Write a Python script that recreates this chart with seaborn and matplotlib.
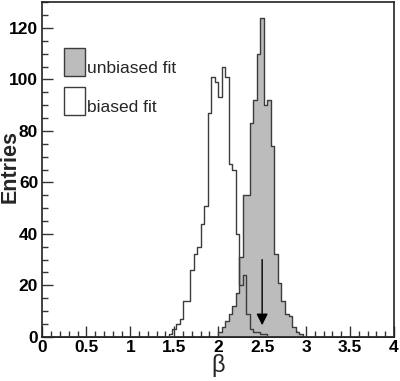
import numpy as np
import pandas as pd
import matplotlib
matplotlib.use("Agg")
import matplotlib.pyplot as plt
import seaborn as sns
from matplotlib.patches import Patch, Rectangle
from matplotlib.legend_handler import HandlerPatch
from matplotlib.ticker import MultipleLocator

# ---------------- data ----------------
bin_width = 0.04
x_range = (0.0, 4.0)

biased_start = 1.44
biased_counts = [1, 3, 5, 7, 14, 14, 26, 32, 35, 44, 51, 87, 101, 99, 93, 105,
                 101, 67, 65, 40, 20, 24, 9, 3, 2, 2, 1, 1]

unbiased_start = 2.00
unbiased_counts = [2, 4, 6, 9, 12, 17, 31, 55, 55, 83, 92, 110, 124, 90, 92, 74,
                   32, 21, 14, 9, 8, 4, 2, 1]

true_beta = 2.5
arrow_top = 30
arrow_tip = 4.5

legend_labels = ["unbiased fit", "biased fit"]
xtick_labels = ["0", "0.5", "1", "1.5", "2", "2.5", "3", "3.5", "4"]
ytick_labels = ["0", "20", "40", "60", "80", "100", "120"]

# ---------------- build tables ----------------
def table(start, counts):
    n = len(counts)
    centers = start + bin_width * (np.arange(n) + 0.5)
    return pd.DataFrame({"beta": centers, "entries": counts})

df_b = table(biased_start, biased_counts)
df_u = table(unbiased_start, unbiased_counts)

# ---------------- figure ----------------
sns.set_style("ticks")
plt.rcParams["font.family"] = ["Liberation Sans", "DejaVu Sans"]

fig = plt.figure(figsize=(4.0, 3.81), dpi=100)
ax = fig.add_axes([0.106, 0.116, 0.879, 0.878])

gray = "#bcbcbc"
edge = "#3c3c3c"

sns.histplot(data=df_u, x="beta", weights="entries", binwidth=bin_width, binrange=x_range,
             element="step", fill=True, color=gray, edgecolor=edge, alpha=1,
             linewidth=1.0, ax=ax, zorder=2)
sns.histplot(data=df_b, x="beta", weights="entries", binwidth=bin_width, binrange=x_range,
             element="step", fill=False, color=edge, linewidth=1.0, ax=ax, zorder=3)

ax.annotate("", xy=(true_beta, arrow_tip), xytext=(true_beta, arrow_top),
            arrowprops=dict(arrowstyle="-|>", color="black", lw=1.0,
                            mutation_scale=17, shrinkA=0, shrinkB=0), zorder=4)

ax.set_xlim(*x_range)
ax.set_ylim(0, 130)
ax.set_xticks([float(t) for t in xtick_labels], xtick_labels)
ax.set_yticks([float(t) for t in ytick_labels], ytick_labels)
ax.xaxis.set_minor_locator(MultipleLocator(0.1))
ax.yaxis.set_minor_locator(MultipleLocator(5))
ax.tick_params(which="both", direction="in", top=False, right=False, colors="#333333",
               width=1.0)
ax.tick_params(which="major", length=8, labelsize=12.5, labelcolor="black")
ax.tick_params(axis="y", which="major", pad=3)
ax.tick_params(axis="x", which="major", pad=2.5)
ax.tick_params(which="minor", length=4)
for lab in ax.get_xticklabels() + ax.get_yticklabels():
    lab.set_fontweight("bold")

for s in ax.spines.values():
    s.set_visible(True)
    s.set_color("#222222")
    s.set_linewidth(1.2)

ax.set_xlabel("β", fontsize=17)
ax.xaxis.set_label_coords(0.5, -0.052)
ax.set_ylabel("Entries", fontsize=15.5, fontweight="bold", va="baseline")
ax.yaxis.set_label_coords(-0.077, 0.51)


def raised_box(legend, orig_handle, xdescent, ydescent, width, height, fontsize):
    return Rectangle((-xdescent, -ydescent + 0.3 * fontsize), width, height)


handles = [Patch(facecolor=gray, edgecolor=edge, linewidth=1.0),
           Patch(facecolor="white", edgecolor=edge, linewidth=1.0)]
ax.legend(handles, legend_labels, loc="upper left", bbox_to_anchor=(0.062, 0.848),
          frameon=False, fontsize=12.5, handlelength=1.2, handleheight=2.15,
          handletextpad=0.12, labelspacing=0.6, borderpad=0, borderaxespad=0,
          handler_map={Patch: HandlerPatch(patch_func=raised_box)})

fig.savefig("out.png", dpi=100)
